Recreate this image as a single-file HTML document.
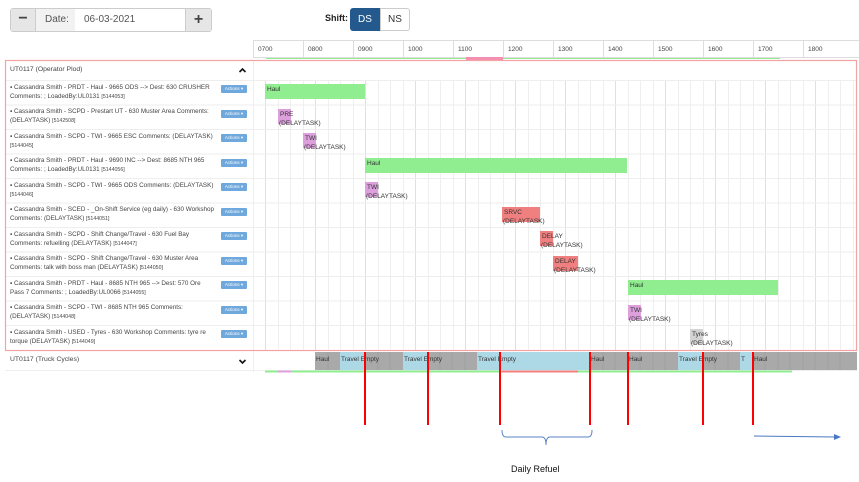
<!DOCTYPE html>
<html><head><meta charset="utf-8"><style>
*{margin:0;padding:0;box-sizing:border-box}
body{width:859px;height:482px;background:#fff;font-family:"Liberation Sans",sans-serif;position:relative;overflow:hidden;color:#333}
.a{position:absolute}
.t{font-size:6.3px;line-height:9px;color:#444;white-space:nowrap}
.btn{position:absolute;left:221px;width:26px;height:8px;background:#6fa8dc;border-radius:1px;color:#fff;font-size:4.5px;line-height:8px;text-align:center}
.bar{position:absolute;height:15px;font-size:6.5px;line-height:12px;padding-left:2px;color:#333;white-space:nowrap}
.g{background:#90ee90}.p{background:#dda0dd}.r{background:#f08080}.y{background:#d3d3d3}
.sub{position:absolute;font-size:6.5px;color:#333;white-space:nowrap}
.rl{position:absolute;width:2px;background:#f00;top:352px;height:73px}
.cl{position:absolute;font-size:6.5px;color:#333;top:356px}
</style></head><body>
<div class="a" style="left:10px;top:8px;width:202px;height:24px;border:1px solid #ccc;border-radius:3px;background:#fff"></div>
<div class="a" style="left:11px;top:9px;width:25px;height:22px;background:#e6e6e6;border-right:1px solid #ccc;font-size:16px;text-align:center;line-height:20px;font-weight:bold;color:#444">−</div>
<div class="a" style="left:36px;top:9px;width:39px;height:22px;background:#f2f2f2;font-size:10px;line-height:22px;padding-left:9px;color:#555">Date:</div>
<div class="a" style="left:84px;top:9px;font-size:10px;line-height:22px;color:#555">06-03-2021</div>
<div class="a" style="left:185px;top:9px;width:26px;height:22px;background:#e6e6e6;border-left:1px solid #ccc;font-size:16px;text-align:center;line-height:21px;font-weight:bold;color:#444">+</div>
<div class="a" style="left:325px;top:13px;font-size:9px;font-weight:bold;color:#222">Shift:</div>
<div class="a" style="left:350px;top:8px;width:30px;height:23px;background:#23598c;border-radius:3px 0 0 3px;color:#fff;font-size:10px;text-align:center;line-height:23px">DS</div>
<div class="a" style="left:380px;top:8px;width:30px;height:23px;border:1px solid #ccc;border-radius:0 3px 3px 0;color:#333;font-size:10px;text-align:center;line-height:21px">NS</div>
<div class="a" style="left:253px;top:40px;width:606px;height:18px;border-top:1px solid #ddd;border-bottom:1px solid #ddd"></div>
<svg class="a" style="left:0;top:0" width="859" height="482">
<g stroke="#ddd" stroke-width="1">
<line x1="253.5" y1="40" x2="253.5" y2="58"/><line x1="303.5" y1="40" x2="303.5" y2="58"/><line x1="353.5" y1="40" x2="353.5" y2="58"/><line x1="403.5" y1="40" x2="403.5" y2="58"/><line x1="453.5" y1="40" x2="453.5" y2="58"/><line x1="503.5" y1="40" x2="503.5" y2="58"/><line x1="553.5" y1="40" x2="553.5" y2="58"/><line x1="603.5" y1="40" x2="603.5" y2="58"/><line x1="653.5" y1="40" x2="653.5" y2="58"/><line x1="703.5" y1="40" x2="703.5" y2="58"/><line x1="753.5" y1="40" x2="753.5" y2="58"/><line x1="803.5" y1="40" x2="803.5" y2="58"/>
</g>
<g font-family="Liberation Sans" font-size="6.5" fill="#444">
<text x="258" y="51">0700</text><text x="308" y="51">0800</text><text x="358" y="51">0900</text><text x="408" y="51">1000</text><text x="458" y="51">1100</text><text x="508" y="51">1200</text><text x="558" y="51">1300</text><text x="608" y="51">1400</text><text x="658" y="51">1500</text><text x="708" y="51">1600</text><text x="758" y="51">1700</text><text x="808" y="51">1800</text>
</g>
<line x1="266" y1="58.5" x2="780" y2="58.5" stroke="#90ee90"/>
<rect x="466" y="57" width="37" height="3" fill="#f48fb1"/>
<g id="grid" stroke="#ececec" stroke-width="1"></g>
<g stroke="#eee">
<line x1="5" y1="80.5" x2="857" y2="80.5"/><line x1="5" y1="105" x2="857" y2="105"/><line x1="5" y1="129.5" x2="857" y2="129.5"/><line x1="5" y1="154" x2="857" y2="154"/><line x1="5" y1="178.5" x2="857" y2="178.5"/><line x1="5" y1="203" x2="857" y2="203"/><line x1="5" y1="227.5" x2="857" y2="227.5"/><line x1="5" y1="252" x2="857" y2="252"/><line x1="5" y1="276.5" x2="857" y2="276.5"/><line x1="5" y1="301" x2="857" y2="301"/><line x1="5" y1="325.5" x2="857" y2="325.5"/>
<line x1="253.5" y1="60" x2="253.5" y2="372"/>
<line x1="5" y1="370.5" x2="857" y2="370.5"/>
</g>
<rect x="315" y="352" width="542" height="18" fill="#a9a9a9"/>
<rect x="340" y="352" width="25" height="18" fill="#add8e6"/>
<rect x="403" y="352" width="25" height="18" fill="#add8e6"/>
<rect x="477" y="352" width="113" height="18" fill="#add8e6"/>
<rect x="678" y="352" width="25" height="18" fill="#add8e6"/>
<rect x="740" y="352" width="13" height="18" fill="#add8e6"/>
<g stroke="#999" stroke-width="0.6">
<line x1="328" y1="352" x2="328" y2="370"/><line x1="378" y1="352" x2="378" y2="370"/><line x1="390" y1="352" x2="390" y2="370"/><line x1="440" y1="352" x2="440" y2="370"/><line x1="452" y1="352" x2="452" y2="370"/><line x1="465" y1="352" x2="465" y2="370"/><line x1="603" y1="352" x2="603" y2="370"/><line x1="615" y1="352" x2="615" y2="370"/><line x1="640" y1="352" x2="640" y2="370"/><line x1="653" y1="352" x2="653" y2="370"/><line x1="665" y1="352" x2="665" y2="370"/><line x1="715" y1="352" x2="715" y2="370"/><line x1="728" y1="352" x2="728" y2="370"/><line x1="765" y1="352" x2="765" y2="370"/><line x1="778" y1="352" x2="778" y2="370"/><line x1="790" y1="352" x2="790" y2="370"/><line x1="803" y1="352" x2="803" y2="370"/><line x1="815" y1="352" x2="815" y2="370"/><line x1="828" y1="352" x2="828" y2="370"/><line x1="840" y1="352" x2="840" y2="370"/>
</g>
<line x1="265" y1="371.5" x2="792" y2="371.5" stroke="#90ee90" stroke-width="2"/>
<line x1="278" y1="371.5" x2="291" y2="371.5" stroke="#dda0dd" stroke-width="2"/>
<line x1="502" y1="371.5" x2="578" y2="371.5" stroke="#f08080" stroke-width="2"/>
<rect x="5.5" y="60.5" width="851" height="290" fill="none" stroke="#f4a3a3" stroke-width="1.2"/>
<polyline points="239.5,72 242.5,69 245.5,72" fill="none" stroke="#111" stroke-width="1.6"/>
<polyline points="239.5,360 242.5,363 245.5,360" fill="none" stroke="#111" stroke-width="1.6"/>
<path d="M502 430 Q502 437 506 437 L542 437 Q546 437 546 445 Q546 437 550 437 L588 437 Q592 437 592 430" fill="none" stroke="#5b84c4" stroke-width="1"/>
<line x1="754" y1="436" x2="835" y2="437" stroke="#4a78c2" stroke-width="1"/>
<path d="M834 434 L841 437 L834 440 Z" fill="#4a78c2"/>
<text x="511" y="472" font-family="Liberation Sans" font-size="9" fill="#111">Daily Refuel</text>
</svg>
<div class="cl" style="left:316px">Haul</div>
<div class="cl" style="left:341px">Travel Empty</div>
<div class="cl" style="left:404px">Travel Empty</div>
<div class="cl" style="left:478px">Travel Empty</div>
<div class="cl" style="left:591px">Haul</div>
<div class="cl" style="left:629px">Haul</div>
<div class="cl" style="left:679px">Travel Empty</div>
<div class="cl" style="left:741px">T</div>
<div class="cl" style="left:754px">Haul</div>
<div class="rl" style="left:364px"></div><div class="rl" style="left:427px"></div><div class="rl" style="left:499px"></div><div class="rl" style="left:589px"></div><div class="rl" style="left:627px"></div><div class="rl" style="left:702px"></div><div class="rl" style="left:752px"></div>
<div class="a t" style="left:10px;top:65px;font-size:6.8px">UT0117 (Operator Plod)</div>
<div class="a t" style="left:10px;top:355px;font-size:6.8px">UT0117 (Truck Cycles)</div>

<div class="a t" style="left:10px;top:83px">▪ Cassandra Smith - PRDT - Haul - 9665 ODS --&gt; Dest: 630 CRUSHER<br>Comments: ; LoadedBy:UL0131 <small>[5144053]</small></div><div class="btn" style="top:85px">Actions ▾</div>
<div class="a t" style="left:10px;top:107px">▪ Cassandra Smith - SCPD - Prestart UT - 630 Muster Area Comments:<br>(DELAYTASK) <small>[5142508]</small></div><div class="btn" style="top:110px">Actions ▾</div>
<div class="a t" style="left:10px;top:132px">▪ Cassandra Smith - SCPD - TWI - 9665 ESC Comments: (DELAYTASK)<br><small>[5144045]</small></div><div class="btn" style="top:134px">Actions ▾</div>
<div class="a t" style="left:10px;top:156px">▪ Cassandra Smith - PRDT - Haul - 9690 INC --&gt; Dest: 8685 NTH 965<br>Comments: ; LoadedBy:UL0131 <small>[5144056]</small></div><div class="btn" style="top:159px">Actions ▾</div>
<div class="a t" style="left:10px;top:181px">▪ Cassandra Smith - SCPD - TWI - 9665 ODS Comments: (DELAYTASK)<br><small>[5144046]</small></div><div class="btn" style="top:183px">Actions ▾</div>
<div class="a t" style="left:10px;top:205px">▪ Cassandra Smith - SCED - _On-Shift Service (eg daily) - 630 Workshop<br>Comments: (DELAYTASK) <small>[5144051]</small></div><div class="btn" style="top:208px">Actions ▾</div>
<div class="a t" style="left:10px;top:230px">▪ Cassandra Smith - SCPD - Shift Change/Travel - 630 Fuel Bay<br>Comments: refuelling (DELAYTASK) <small>[5144047]</small></div><div class="btn" style="top:232px">Actions ▾</div>
<div class="a t" style="left:10px;top:254px">▪ Cassandra Smith - SCPD - Shift Change/Travel - 630 Muster Area<br>Comments: talk with boss man (DELAYTASK) <small>[5144050]</small></div><div class="btn" style="top:257px">Actions ▾</div>
<div class="a t" style="left:10px;top:279px">▪ Cassandra Smith - PRDT - Haul - 8685 NTH 965 --&gt; Dest: 570 Ore<br>Pass 7 Comments: ; LoadedBy:UL0066 <small>[5144055]</small></div><div class="btn" style="top:281px">Actions ▾</div>
<div class="a t" style="left:10px;top:303px">▪ Cassandra Smith - SCPD - TWI - 8685 NTH 965 Comments:<br>(DELAYTASK) <small>[5144048]</small></div><div class="btn" style="top:306px">Actions ▾</div>
<div class="a t" style="left:10px;top:328px">▪ Cassandra Smith - USED - Tyres - 630 Workshop Comments: tyre re<br>torque (DELAYTASK) <small>[5144049]</small></div><div class="btn" style="top:330px">Actions ▾</div>
<div class="bar g" style="left:265px;top:84px;width:100px">Haul</div>
<div class="bar p" style="left:278px;top:109px;width:13px">PRE</div><div class="sub" style="left:279px;top:120px">(DELAYTASK)</div>
<div class="bar p" style="left:303px;top:133px;width:13px">TWI</div><div class="sub" style="left:304px;top:144px">(DELAYTASK)</div>
<div class="bar g" style="left:365px;top:158px;width:262px">Haul</div>
<div class="bar p" style="left:365px;top:182px;width:13px">TWI</div><div class="sub" style="left:366px;top:193px">(DELAYTASK)</div>
<div class="bar r" style="left:502px;top:207px;width:38px">SRVC</div><div class="sub" style="left:503px;top:218px">(DELAYTASK)</div>
<div class="bar r" style="left:540px;top:231px;width:13px">DELAY</div><div class="sub" style="left:541px;top:242px">(DELAYTASK)</div>
<div class="bar r" style="left:553px;top:256px;width:25px">DELAY</div><div class="sub" style="left:554px;top:267px">(DELAYTASK)</div>
<div class="bar g" style="left:628px;top:280px;width:150px">Haul</div>
<div class="bar p" style="left:628px;top:305px;width:13px">TWI</div><div class="sub" style="left:629px;top:316px">(DELAYTASK)</div>
<div class="bar y" style="left:690px;top:329px;width:13px">Tyres</div><div class="sub" style="left:691px;top:340px">(DELAYTASK)</div>
<script>
var g=document.getElementById('grid'),s='';
for(var x=265;x<857;x+=12.5){var h=Math.round((x-265)/12.5)%4==0;s+='<line x1="'+(Math.round(x)+0.5)+'" y1="81" x2="'+(Math.round(x)+0.5)+'" y2="350" stroke="'+(h?'#e0e0e0':'#efefef')+'"/>';}
g.innerHTML=s;
</script>
</body></html>
